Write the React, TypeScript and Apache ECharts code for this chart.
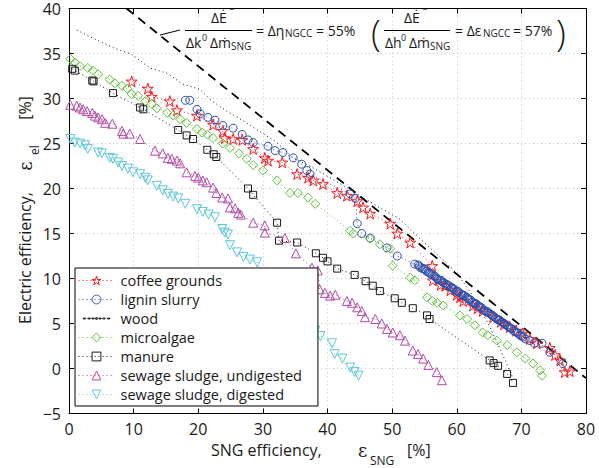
import React, { useEffect, useRef } from 'react';
import * as echarts from 'echarts';

const FONT = '"Open Sans", "Noto Sans", sans-serif';
const SERIF = '"DejaVu Serif", "Liberation Serif", serif';

const X_MIN = 0, X_MAX = 80, X_STEP = 10;
const Y_MIN = -5, Y_MAX = 40, Y_STEP = 5;

const SERIES_NAMES = [
  'coffee grounds',
  'lignin slurry',
  'wood',
  'microalgae',
  'manure',
  'sewage sludge, undigested',
  'sewage sludge, digested',
];

const COFFEE: number[][] = [
  [9.7, 31.9], [12.2, 31.1], [12.8, 30.2], [15.6, 29.7], [16.7, 28.7], [19.8, 28.1], [22.3, 27.1], [23.8, 26.4],
  [24.1, 25.6], [25.4, 25.5], [26.8, 25.4], [28.5, 24.4], [30.3, 23.4], [30.8, 23.1], [33.0, 22.9], [35.3, 21.6],
  [37.0, 21.2], [37.8, 20.9], [39.3, 20.5], [41.5, 19.5], [43.0, 19.2], [44.6, 18.6], [45.5, 17.9], [46.6, 17.2],
  [49.7, 16.1], [50.8, 15.0], [52.8, 14.0], [56.2, 11.4], [56.3, 9.8], [57.5, 9.3], [58.2, 9.2], [59.0, 8.7],
  [60.0, 8.2], [60.5, 7.9], [61.0, 7.5], [62.5, 7.0], [63.2, 6.7], [64.0, 6.4], [65.6, 5.7], [66.8, 5.2],
  [67.3, 4.9], [68.2, 4.6], [69.2, 4.2], [70.2, 3.9], [71.3, 3.3], [72.4, 2.8], [74.4, 2.3], [75.2, 1.5],
  [76.0, 0.9], [76.7, -0.4], [77.5, -0.3],
];

const LIGNIN: number[][] = [
  [18.0, 29.8], [18.7, 29.8], [19.8, 28.8], [20.3, 28.3], [21.5, 27.9], [22.6, 27.6], [23.8, 27.0], [25.4, 26.7],
  [26.8, 26.0], [27.7, 25.4], [28.5, 25.1], [30.8, 24.7], [31.9, 24.2], [33.1, 24.0], [34.7, 23.4], [36.0, 22.7],
  [36.8, 22.0], [37.3, 21.6], [43.5, 19.4], [44.3, 18.9], [44.6, 16.1], [45.3, 15.0], [46.6, 14.5], [49.2, 13.4],
  [50.8, 12.5], [53.5, 11.6], [54.0, 11.5], [54.2, 11.4], [54.4, 11.2], [54.7, 11.1], [54.9, 11.1], [55.1, 11.0],
  [55.3, 10.8], [55.6, 10.7], [55.8, 10.6], [56.0, 10.5], [56.2, 10.4], [56.5, 10.3], [56.7, 10.2], [56.9, 10.0],
  [57.1, 9.9], [57.4, 9.8], [57.6, 9.8], [57.8, 9.6], [58.0, 9.5], [58.3, 9.4], [58.5, 9.3], [58.7, 9.2],
  [59.0, 9.1], [59.2, 9.0], [59.4, 8.9], [59.6, 8.8], [59.9, 8.6], [60.1, 8.6], [60.3, 8.5], [60.6, 8.3],
  [60.8, 8.2], [61.0, 8.1], [61.2, 8.1], [61.5, 7.9], [61.7, 7.8], [61.9, 7.7], [62.1, 7.6], [62.4, 7.4],
  [62.6, 7.3], [62.8, 7.2], [63.0, 7.2], [63.3, 7.0], [63.5, 6.9], [63.7, 6.8], [63.9, 6.7], [64.2, 6.5],
  [64.4, 6.4], [64.6, 6.3], [64.8, 6.3], [65.1, 6.1], [65.3, 6.0], [65.5, 5.9], [65.7, 5.8], [66.0, 5.6],
  [66.2, 5.5], [66.4, 5.4], [66.6, 5.4], [66.9, 5.2], [67.1, 5.1], [67.3, 5.0], [67.5, 4.9], [67.8, 4.8],
  [68.0, 4.6], [68.3, 4.5], [68.5, 4.4], [68.8, 4.2], [69.0, 4.1], [69.3, 4.0], [69.5, 3.9], [69.8, 3.7],
  [70.0, 3.6], [70.3, 3.5], [70.6, 3.3], [71.3, 3.1], [72.0, 2.8], [73.2, 2.8], [74.4, 1.8], [76.4, 0.55],
];

const WOOD: number[][] = [
  [1.2, 37.6], [4.0, 36.6], [7.0, 35.6], [9.7, 34.9], [12.5, 33.4], [15.2, 32.8], [17.6, 31.6], [20.3, 31.0],
  [22.0, 29.8], [24.4, 28.6], [27.0, 27.5], [29.6, 26.3], [32.0, 25.2], [34.7, 23.4], [37.5, 22.4], [40.4, 21.2],
  [42.5, 20.3], [44.6, 19.4], [48.0, 17.9], [51.2, 16.6], [53.5, 15.0], [56.0, 13.3], [58.0, 12.0], [60.0, 10.6],
  [62.0, 8.6], [63.5, 6.8], [65.0, 4.8], [66.3, 2.8], [67.5, 0.9], [68.6, -0.9],
];

const MICROALGAE: number[][] = [
  [0.2, 34.4], [0.9, 34.0], [1.7, 33.6], [2.9, 33.4], [3.7, 33.1], [4.5, 32.7], [6.3, 32.1], [7.1, 31.7],
  [8.2, 31.4], [9.0, 31.1], [9.7, 30.5], [10.7, 30.3], [11.8, 29.7], [12.8, 29.4], [13.6, 28.9], [15.2, 28.4],
  [16.1, 28.1], [17.2, 27.7], [18.2, 27.3], [19.8, 26.6], [20.6, 26.2], [21.4, 26.0], [22.3, 25.6], [23.8, 25.0],
  [24.9, 24.5], [26.3, 23.9], [27.5, 23.3], [28.5, 22.6], [30.0, 22.0], [32.2, 20.9], [34.2, 19.5], [35.4, 19.5],
  [37.0, 19.0], [38.1, 18.3], [43.5, 15.3], [44.0, 15.0], [46.6, 14.4], [48.1, 13.8], [49.7, 13.3], [50.1, 11.4],
  [52.8, 10.1], [53.5, 9.8], [55.4, 7.9], [56.2, 7.5], [57.0, 7.3], [57.9, 7.0], [60.5, 5.9], [61.6, 5.5],
  [62.8, 4.8], [64.0, 4.0], [64.8, 3.7], [66.2, 3.1], [67.8, 2.6], [69.3, 1.8], [70.6, 1.1], [71.8, 0.55],
  [72.9, -0.2], [73.2, -0.8],
];

const MANURE: number[][] = [
  [0.5, 33.3], [0.9, 33.1], [3.6, 32.0], [3.8, 31.9], [6.8, 30.6], [11.0, 29.0], [11.5, 28.8], [16.9, 26.5],
  [18.2, 25.9], [19.2, 25.5], [21.4, 24.3], [22.4, 23.8], [22.8, 23.5], [27.7, 20.0], [28.5, 19.3], [32.2, 16.2],
  [32.5, 14.2], [35.3, 14.0], [38.2, 12.8], [39.3, 12.3], [40.0, 11.9], [41.5, 11.1], [44.2, 10.4], [45.9, 9.7],
  [47.0, 9.2], [48.1, 8.6], [50.4, 7.8], [51.5, 7.3], [53.2, 6.7], [55.4, 5.9], [55.8, 5.5], [65.1, 0.9],
  [65.7, 0.6], [66.4, 0.3], [67.8, -0.6], [68.7, -1.6],
];

const SLUDGE_UNDIGESTED: number[][] = [
  [0.2, 29.3], [1.2, 29.2], [1.7, 29.0], [2.2, 28.8], [2.8, 28.6], [3.6, 28.4], [4.0, 28.1], [4.5, 27.9],
  [5.1, 27.7], [5.6, 27.3], [6.7, 27.2], [8.2, 26.4], [8.4, 26.1], [9.4, 26.1], [11.0, 25.5], [13.3, 24.2],
  [14.5, 23.9], [15.3, 23.4], [15.9, 23.3], [16.7, 23.1], [17.2, 22.8], [18.2, 21.8], [19.5, 21.4], [20.0, 21.2],
  [20.7, 20.9], [21.3, 20.7], [22.3, 20.1], [22.8, 19.5], [23.7, 19.0], [24.6, 18.9], [24.9, 17.9], [25.7, 17.8],
  [26.2, 17.3], [26.6, 17.1], [28.5, 16.2], [30.3, 15.9], [30.3, 15.1], [33.4, 14.5], [35.1, 12.8], [37.6, 11.2],
  [38.5, 10.9], [38.8, 8.8], [39.6, 8.4], [40.4, 8.1], [41.2, 8.2], [43.0, 7.5], [43.8, 7.3], [44.6, 6.8],
  [45.3, 6.4], [45.8, 5.7], [47.4, 5.5], [48.4, 5.0], [49.2, 4.4], [50.1, 4.0], [51.2, 3.7], [52.0, 3.1],
  [53.2, 2.0], [54.0, 1.6], [54.8, 1.1], [55.6, 0.4], [56.9, -0.4], [57.7, -1.3],
];

const SLUDGE_DIGESTED: number[][] = [
  [0.2, 25.5], [0.9, 25.1], [1.7, 25.0], [2.5, 24.8], [2.9, 24.4], [4.5, 24.0], [5.1, 23.9], [6.3, 23.4],
  [6.8, 23.3], [7.6, 22.9], [8.2, 22.5], [9.1, 22.2], [9.9, 21.8], [11.0, 21.6], [11.8, 21.2], [12.2, 20.9],
  [13.6, 20.3], [14.5, 19.8], [15.3, 19.4], [16.1, 19.1], [16.9, 18.9], [18.0, 18.3], [19.8, 17.7], [20.7, 17.4],
  [21.6, 17.1], [22.6, 16.8], [23.7, 15.5], [24.1, 15.1], [24.6, 14.9], [24.9, 13.7], [26.0, 12.9], [27.0, 12.4],
  [28.0, 12.1], [29.1, 11.8], [30.1, 9.5], [31.1, 9.1], [32.2, 9.0], [33.1, 8.4], [33.7, 7.0], [36.1, 6.7],
  [37.3, 6.0], [38.1, 4.2], [38.9, 3.6], [40.7, 2.8], [41.1, 1.6], [42.3, 1.1], [43.5, 0.1], [44.2, -0.4],
  [44.8, -0.8],
];

// NGCC reference line (dashed): two end points
const NGCC_LINE: number[][] = [[8.9, 40], [80, -1.07]];

const COLORS = ['#f2181c', '#2d4ead', '#111111', '#5fbf3a', '#1a1a1a', '#b24aa6', '#5ec6dc'];

const STAR = 'path://M50 0 L61.17 34.63 L97.55 34.55 L68.07 55.87 L79.39 90.45 L50 69 L20.61 90.45 L31.93 55.87 L2.45 34.55 L38.83 34.63 Z';
const WOOD_ICON = 'path://M0 0L0 0ZM36 14L36 14ZM1 6.5h3v1h-3zM7 6.5h3v1h-3zM12 6.5h3v1h-3zM17 6h2v2h-2zM21 6.5h3v1h-3zM26 6.5h3v1h-3zM32 6.5h3v1h-3z';

function mk(idx: number, data: number[][], symbol: string, size: number, extra: any = {}) {
  const color = COLORS[idx];
  return {
    name: SERIES_NAMES[idx],
    type: 'line',
    data,
    symbol,
    symbolSize: size,
    showAllSymbol: true,
    silent: true,
    clip: true,
    lineStyle: { color, width: 1, type: [1, 3] },
    itemStyle: { color: 'rgba(0,0,0,0)', borderColor: color, borderWidth: 1 },
    emphasis: { disabled: true },
    ...extra,
  };
}

function T(text: string, x: number, y: number, size: number, extra: any = {}) {
  return {
    type: 'text',
    x,
    y,
    silent: true,
    z: 100,
    style: {
      text,
      fontSize: size,
      fontFamily: FONT,
      fill: '#1a1a1a',
      align: 'left',
      verticalAlign: 'middle',
      textAlign: 'left',
      textVerticalAlign: 'middle',
      ...extra,
    },
  };
}

function L(x1: number, y1: number, x2: number, y2: number) {
  return {
    type: 'line',
    silent: true,
    z: 100,
    shape: { x1, y1, x2, y2 },
    style: { stroke: '#000', lineWidth: 1 },
  };
}

function R(text: string, x: number, y: number, size: number, extra: any = {}) {
  return {
    type: 'text',
    x,
    y,
    rotation: Math.PI / 2,
    silent: true,
    z: 100,
    style: {
      text,
      fontSize: size,
      fontFamily: FONT,
      fill: '#1a1a1a',
      align: 'center',
      verticalAlign: 'middle',
      textAlign: 'center',
      textVerticalAlign: 'middle',
      ...extra,
    },
  };
}

export default function App() {
  const ref = useRef<HTMLDivElement>(null);
  useEffect(() => {
    if (!ref.current) return;
    const chart = echarts.init(ref.current, null, { renderer: 'svg' });
    const grid = { left: 69, top: 8.5, right: 13, bottom: 54.5, containLabel: false };
    const splitLine = { show: true, lineStyle: { color: '#c4c4c4', width: 1, type: [1, 3] } };
    const axisLine = { show: true, onZero: false, lineStyle: { color: '#000', width: 1 } };
    const axisTick = { show: true, inside: true, length: 5, lineStyle: { color: '#000', width: 1 } };
    const option: any = {
      animation: false,
      backgroundColor: '#fff',
      grid,
      xAxis: [
        {
          type: 'value', min: X_MIN, max: X_MAX, interval: X_STEP,
          axisLine, axisTick, splitLine,
          axisLabel: { fontSize: 16, lineHeight: 16, fontFamily: FONT, color: '#1a1a1a', margin: 7 },
        },
        {
          type: 'value', position: 'top', min: X_MIN, max: X_MAX, interval: X_STEP,
          axisLine, axisTick, splitLine: { show: false }, axisLabel: { show: false },
        },
      ],
      yAxis: [
        {
          type: 'value', min: Y_MIN, max: Y_MAX, interval: Y_STEP,
          axisLine, axisTick, splitLine,
          axisLabel: {
            fontSize: 16, lineHeight: 14, fontFamily: FONT, color: '#1a1a1a', margin: 8,
            formatter: (v: number) => (v < 0 ? '\u2212' + Math.abs(v) : String(v)),
          },
        },
        {
          type: 'value', position: 'right', min: Y_MIN, max: Y_MAX, interval: Y_STEP,
          axisLine, axisTick, splitLine: { show: false }, axisLabel: { show: false },
        },
      ],
      legend: {
        orient: 'vertical',
        left: 75,
        top: 268,
        data: SERIES_NAMES.map((n) => (n === 'wood' ? { name: n, icon: WOOD_ICON } : { name: n })),
        selectedMode: false,
        backgroundColor: '#fff',
        borderColor: '#000',
        borderWidth: 1,
        borderRadius: 0,
        padding: [5, 16, 4, 3],
        itemGap: 4,
        itemWidth: 36,
        itemHeight: 11,
        symbolKeepAspect: true,
        lineStyle: { width: 1 },
        itemStyle: { borderWidth: 1 },
        textStyle: { fontSize: 14.5, fontFamily: FONT, color: '#1a1a1a', padding: [0, 0, 0, 1] },
        z: 50,
      },
      series: [
        mk(0, COFFEE, STAR, 11),
        mk(1, LIGNIN, 'circle', 8),
        mk(2, WOOD, 'none', 2),
        mk(3, MICROALGAE, 'diamond', 9),
        mk(4, MANURE, 'rect', 7),
        mk(5, SLUDGE_UNDIGESTED, 'triangle', 9),
        mk(6, SLUDGE_DIGESTED, 'triangle', 9, { symbolRotate: 180 }),
        {
          name: 'NGCC',
          type: 'line',
          data: NGCC_LINE,
          symbol: 'none',
          silent: true,
          clip: true,
          lineStyle: { color: '#000', width: 1.8, type: [9, 6] },
          z: 3,
        },
      ],
      graphic: [
        // leader from formula to dashed line
        L(160, 35, 180, 30),
        // first fraction
        T('\u0394\u0116', 211, 17, 14),
        T('\u2212', 229, 9, 9),
        L(185, 30.5, 252, 30.5),
        T('\u0394k', 186, 42, 14),
        T('0', 202, 37, 9),
        T('\u0394\u1E41', 210, 42, 14),
        T('SNG', 231, 46, 10),
        T('= \u0394\u03B7', 256, 30, 14),
        T('NGCC', 285, 33, 10),
        T('= 55%', 316, 30, 14),
        T('(', 371, 32, 36, { fontWeight: 300 }),
        // second fraction
        T('\u0394\u0116', 404, 17, 14),
        T('\u2212', 422, 9, 9),
        L(384, 30.5, 450, 30.5),
        T('\u0394h', 385, 42, 14),
        T('0', 401, 37, 9),
        T('\u0394\u1E41', 409, 42, 14),
        T('SNG', 430, 46, 10),
        T('= \u0394\u03B5', 455, 30, 14),
        T('NGCC', 483, 33, 10),
        T('= 57%', 513, 30, 14),
        T(')', 556, 32, 36, { fontWeight: 300 }),
        // x axis name
        T('SNG efficiency,', 211, 450, 16, { lineHeight: 16 }),
        T('\u03B5', 358, 450, 18, { fontFamily: SERIF, lineHeight: 18 }),
        T('SNG', 370, 460, 12, { lineHeight: 12 }),
        T('[%]', 407, 450, 16, { lineHeight: 16 }),
        // y axis name
        R('Electric efficiency,', 25, 258, 16),
        R('\u03B5', 25, 166, 18, { fontFamily: SERIF }),
        R('el', 34, 150, 12),
        R('[%]', 25, 108, 16),
      ],
    };
    chart.setOption(option);
    return () => chart.dispose();
  }, []);
  return (
    <div
      ref={ref}
      style={{ position: 'absolute', left: 0, top: 0, width: 599, height: 468, background: '#fff' }}
    />
  );
}
